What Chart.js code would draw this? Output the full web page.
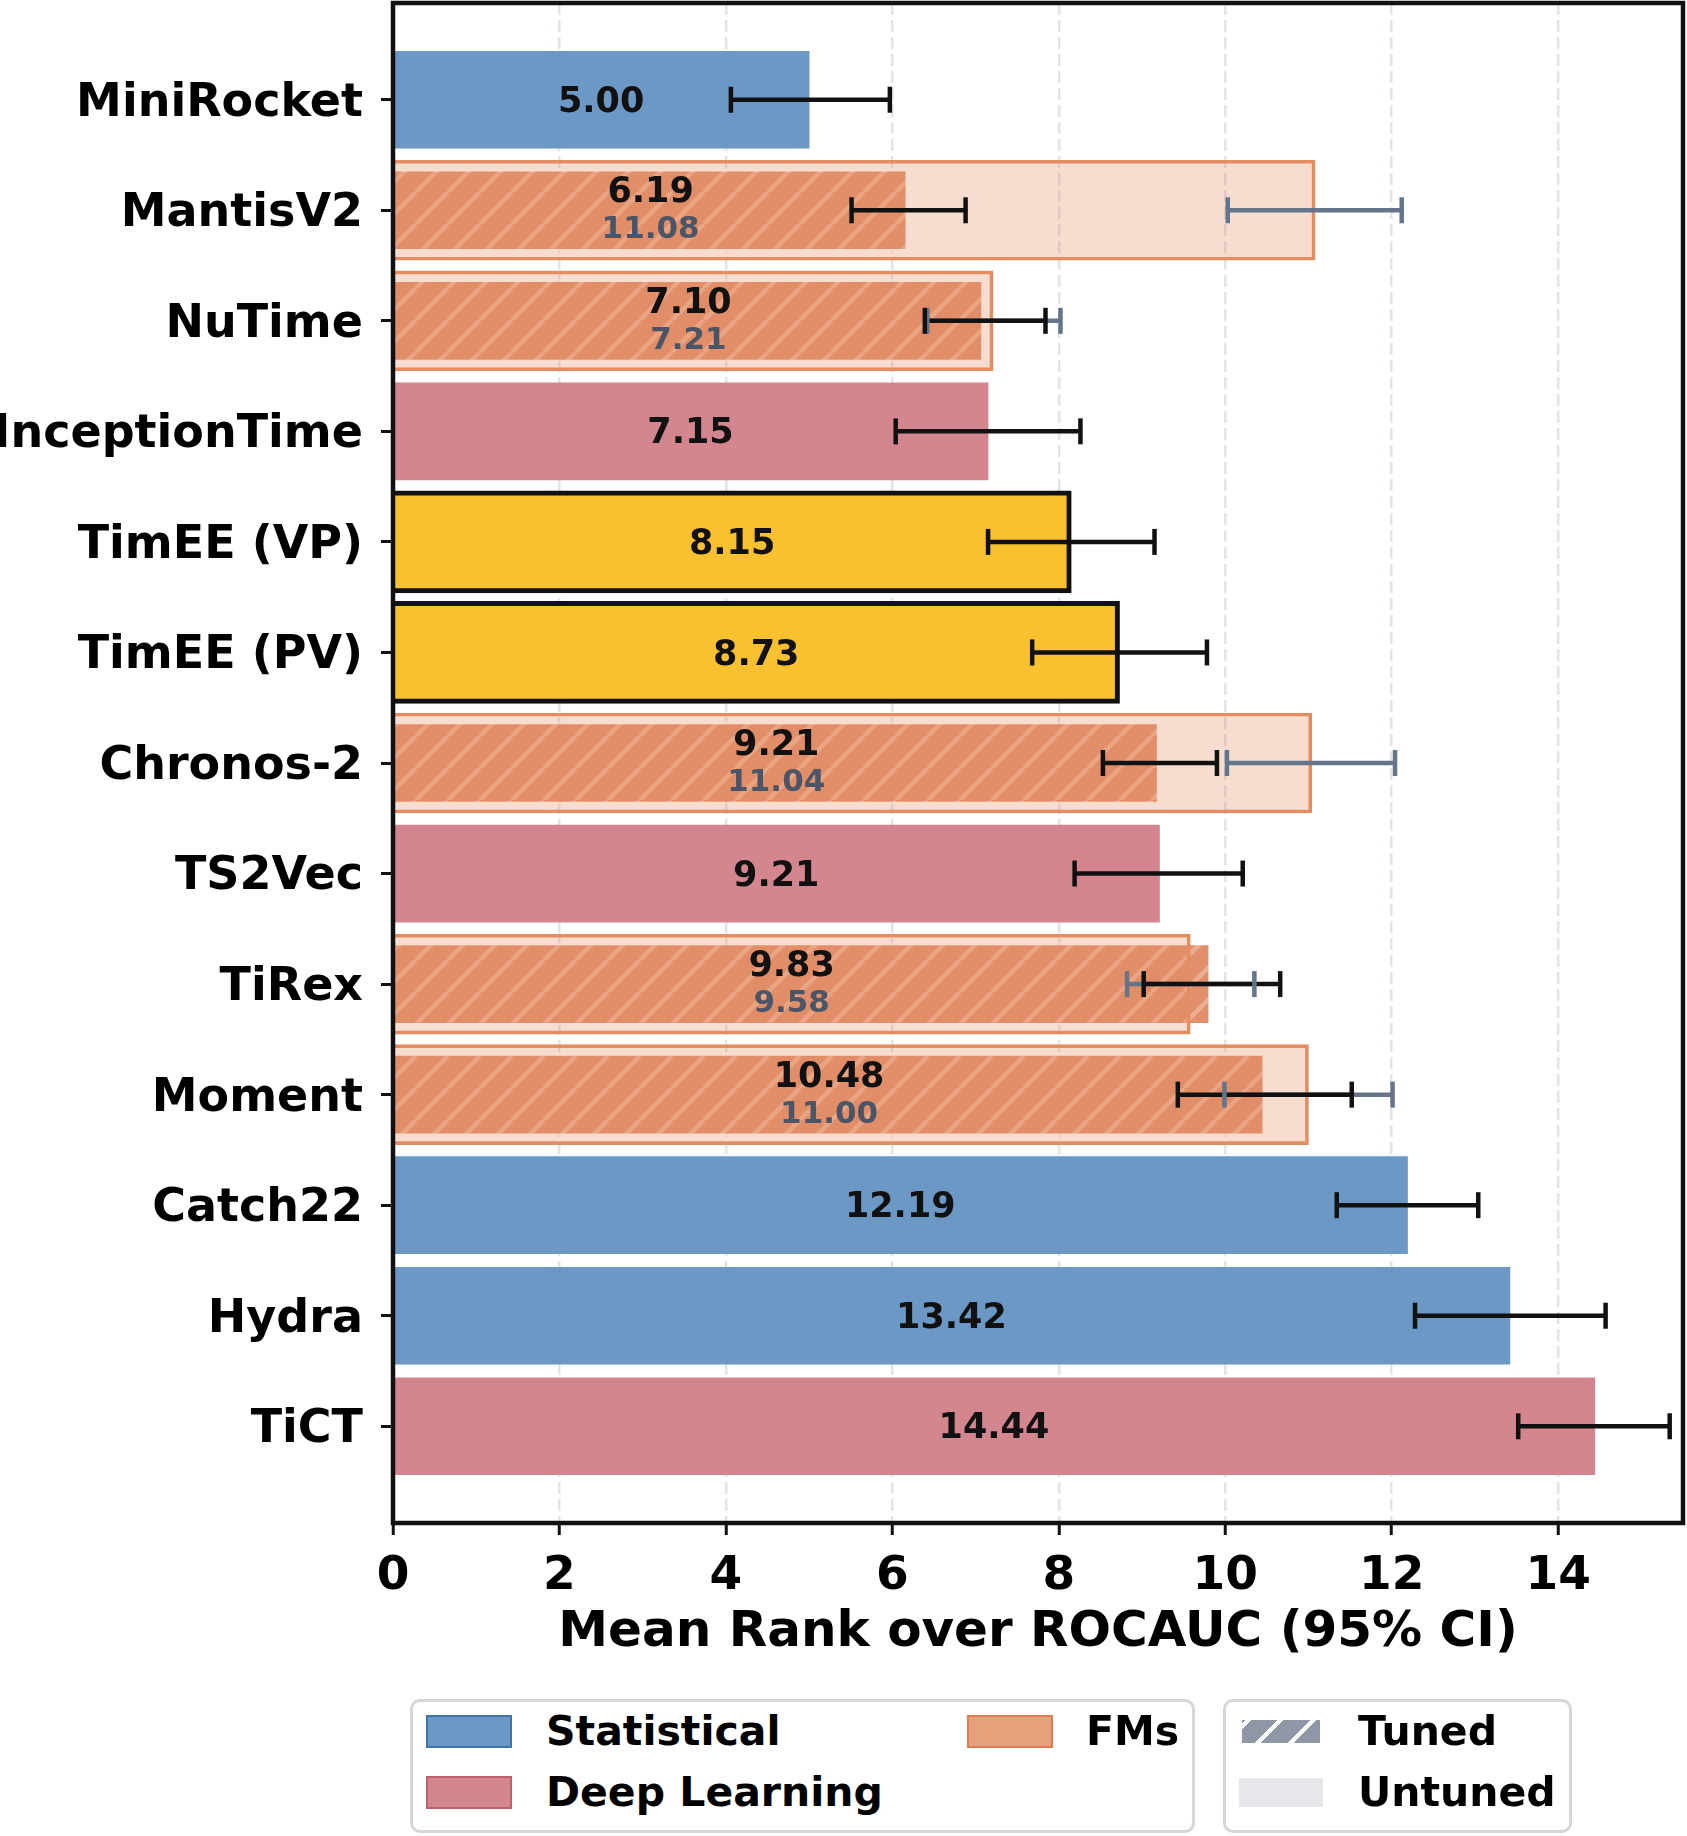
<!DOCTYPE html>
<html>
<head>
<meta charset="utf-8">
<script src="https://cdn.jsdelivr.net/npm/chart.js@4.4.1/dist/chart.umd.min.js"></script>
<style>
  html, body { margin: 0; padding: 0; background: #fff; }
  #wrap { position: relative; width: 1687px; height: 1836px; overflow: hidden; }
  #chart { position: absolute; left: 0; top: 0; }
  .lbox { position: absolute; border: 3px solid #d6d6d6; border-radius: 10px; box-sizing: border-box; background: #fff; }
  .ltxt { position: absolute; font: bold 41px "DejaVu Sans"; color: #000; white-space: nowrap; line-height: 41px; }
  .patch { position: absolute; box-sizing: border-box; }
</style>
</head>
<body>
<div id="wrap">
  <canvas id="chart" width="1687" height="1836"></canvas>
</div>
<script>
// ---------------- data ----------------
const categories = ['MiniRocket', 'MantisV2', 'NuTime', 'InceptionTime', 'TimEE (VP)', 'TimEE (PV)',
  'Chronos-2', 'TS2Vec', 'TiRex', 'Moment', 'Catch22', 'Hydra', 'TiCT'];
const groups = ['Statistical', 'FMs', 'FMs', 'Deep Learning', 'TimEE', 'TimEE',
  'FMs', 'Deep Learning', 'FMs', 'FMs', 'Statistical', 'Statistical', 'Deep Learning'];
const tunedMean = [5.00, 6.19, 7.10, 7.15, 8.15, 8.73, 9.21, 9.21, 9.83, 10.48, 12.19, 13.42, 14.44];
const tunedLow  = [4.06, 5.51, 6.39, 6.04, 7.15, 7.68, 8.53, 8.19, 9.02, 9.43, 11.34, 12.28, 13.52];
const tunedHigh = [5.97, 6.88, 7.84, 8.26, 9.15, 9.78, 9.90, 10.21, 10.66, 11.52, 13.04, 14.57, 15.34];
const untunedMean = [null, 11.08, 7.21, null, null, null, 11.04, null, 9.58, 11.00, null, null, null];
const untunedLow  = [null, 10.03, 6.42, null, null, null, 10.02, null, 8.82, 9.99, null, null, null];
const untunedHigh = [null, 12.12, 8.02, null, null, null, 12.04, null, 10.35, 12.01, null, null, null];
const xTicks = [0, 2, 4, 6, 8, 10, 12, 14];
const xTitle = 'Mean Rank over ROCAUC (95% CI)';
const legendFamilies = ['Statistical', 'Deep Learning', 'FMs'];
const legendTuning = ['Tuned', 'Untuned'];

// ---------------- styles ----------------
const FONT = '"DejaVu Sans"';
const groupColor = {
  'Statistical': '#6b98c5',
  'Deep Learning': '#d4868f',
  'TimEE': '#f9c02f'
};
const errTuned = '#111111';
const errUntuned = '#64748b';

function makeHatch() {
  const c = document.createElement('canvas');
  c.width = 32; c.height = 32;
  const g = c.getContext('2d');
  g.fillStyle = '#e08f6a';
  g.fillRect(0, 0, 32, 32);
  g.strokeStyle = '#ebae91';
  g.lineWidth = 4.5;
  g.beginPath();
  for (const o of [-32, 0, 32]) { g.moveTo(o, 32); g.lineTo(o + 32, 0); }
  g.stroke();
  return g.createPattern(c, 'repeat');
}
const hatch = makeHatch();

// ---------------- datasets ----------------
const idx = categories.map((_, i) => i);
const regularIdx = idx.filter(i => groups[i] === 'Statistical' || groups[i] === 'Deep Learning');
const timeeIdx = idx.filter(i => groups[i] === 'TimEE');
const fmIdx = idx.filter(i => groups[i] === 'FMs');
const untunedIdx = idx.filter(i => untunedMean[i] !== null);

const datasets = [
  {
    label: 'Untuned',
    data: untunedIdx.map(i => ({ x: untunedMean[i], y: i })),
    backgroundColor: 'rgba(228,141,100,0.30)',
    borderColor: '#e58c60',
    borderWidth: 3,
    barThickness: 100,
    grouped: false,
    order: 0
  },
  {
    label: 'Tuned FMs',
    data: fmIdx.map(i => ({ x: tunedMean[i], y: i })),
    backgroundColor: hatch,
    borderColor: 'rgba(255,255,255,0.5)',
    borderWidth: 3,
    barThickness: 83,
    grouped: false,
    order: 1
  },
  {
    label: 'TimEE',
    data: timeeIdx.map(i => ({ x: tunedMean[i], y: i })),
    backgroundColor: groupColor['TimEE'],
    borderColor: '#111111',
    borderWidth: 5,
    barThickness: 102,
    grouped: false,
    order: 2
  },
  {
    label: 'Baselines',
    data: regularIdx.map(i => ({ x: tunedMean[i], y: i })),
    backgroundColor: regularIdx.map(i => groupColor[groups[i]]),
    borderWidth: 0,
    barThickness: 97,
    grouped: false,
    order: 3
  }
];

// ---------------- plugins ----------------
const errorBars = {
  id: 'errorBars',
  afterDatasetsDraw(chart) {
    const { ctx, scales: { x, y } } = chart;
    const cap = 13;
    ctx.save();
    ctx.lineWidth = 4.5;
    ctx.lineCap = 'butt';
    const drawLines = (lo, hi, color) => {
      ctx.strokeStyle = color;
      idx.forEach(i => {
        if (lo[i] === null) return;
        const py = y.getPixelForValue(i);
        ctx.beginPath();
        ctx.moveTo(x.getPixelForValue(lo[i]), py);
        ctx.lineTo(x.getPixelForValue(hi[i]), py);
        ctx.stroke();
      });
    };
    const drawCaps = (lo, hi, color) => {
      ctx.strokeStyle = color;
      idx.forEach(i => {
        if (lo[i] === null) return;
        const py = y.getPixelForValue(i);
        [lo[i], hi[i]].forEach(v => {
          const px = x.getPixelForValue(v);
          ctx.beginPath();
          ctx.moveTo(px, py - cap);
          ctx.lineTo(px, py + cap);
          ctx.stroke();
        });
      });
    };
    drawLines(untunedLow, untunedHigh, errUntuned);
    drawLines(tunedLow, tunedHigh, errTuned);
    drawCaps(untunedLow, untunedHigh, errUntuned);
    drawCaps(tunedLow, tunedHigh, errTuned);
    ctx.restore();
  }
};

const valueLabels = {
  id: 'valueLabels',
  afterDatasetsDraw(chart) {
    const { ctx, scales: { x, y } } = chart;
    ctx.save();
    ctx.textAlign = 'center';
    ctx.textBaseline = 'middle';
    idx.forEach(i => {
      const py = y.getPixelForValue(i) + 3;
      const hasU = untunedMean[i] !== null;
      const m = hasU ? Math.min(tunedMean[i], untunedMean[i]) : tunedMean[i];
      const px = x.getPixelForValue(m / 2);
      ctx.fillStyle = '#111111';
      ctx.font = 'bold 35px ' + FONT;
      ctx.fillText(tunedMean[i].toFixed(2), px, hasU ? py - 20 : py);
      if (hasU) {
        ctx.fillStyle = '#4a5568';
        ctx.font = 'bold 31px ' + FONT;
        ctx.fillText(untunedMean[i].toFixed(2), px, py + 17);
      }
    });
    ctx.restore();
  }
};

const frame = {
  id: 'frame',
  afterDraw(chart) {
    const { ctx, chartArea: a } = chart;
    ctx.save();
    ctx.strokeStyle = '#111111';
    ctx.lineWidth = 4.5;
    ctx.strokeRect(a.left, a.top, a.right - a.left, a.bottom - a.top);
    ctx.restore();
  }
};

// ---------------- chart ----------------
new Chart(document.getElementById('chart'), {
  type: 'bar',
  data: { datasets },
  options: {
    indexAxis: 'y',
    responsive: false,
    animation: false,
    devicePixelRatio: 1,
    layout: { padding: { top: 3, right: 4, left: 0, bottom: 0 } },
    plugins: { legend: { display: false }, tooltip: { enabled: false } },
    scales: {
      y: {
        type: 'linear',
        position: 'left',
        reverse: true,
        offset: false,
        min: -0.875,
        max: 12.875,
        afterBuildTicks: s => { s.ticks = idx.map(i => ({ value: i })); },
        afterFit: s => { s.width = 393; s.paddingTop = 0; s.paddingBottom = 0; },
        ticks: {
          autoSkip: false,
          padding: 18,
          labelOffset: 4,
          color: '#000',
          font: { family: 'DejaVu Sans', weight: 'bold', size: 46 },
          callback: v => categories[v]
        },
        grid: { offset: false, drawOnChartArea: false, drawTicks: true, tickLength: 12, tickWidth: 3, tickColor: '#111', color: '#111' },
        border: { display: false }
      },
      x: {
        type: 'linear',
        position: 'bottom',
        min: 0,
        max: 15.5,
        offset: false,
        afterBuildTicks: s => { s.ticks = xTicks.map(v => ({ value: v })); },
        afterFit: s => { s.height = 313; s.paddingLeft = 0; s.paddingRight = 0; },
        ticks: {
          autoSkip: false,
          maxRotation: 0,
          padding: 14,
          color: '#000',
          font: { family: 'DejaVu Sans', weight: 'bold', size: 47 },
          callback: v => String(v)
        },
        grid: {
          offset: false,
          drawOnChartArea: true, drawTicks: true, tickLength: 12, tickWidth: 3,
          tickColor: '#111', color: '#e3e3ea', lineWidth: 2.5, tickBorderDash: []
        },
        border: { display: false, dash: [12, 5] },
        title: {
          display: true,
          text: xTitle,
          color: '#000',
          font: { family: 'DejaVu Sans', weight: 'bold', size: 50 },
          padding: { top: 0, bottom: 173 }
        }
      }
    }
  },
  plugins: [errorBars, valueLabels, frame]
});

// ---------------- legend (HTML) ----------------
const wrap = document.getElementById('wrap');
function add(cls, style, text) {
  const d = document.createElement('div');
  d.className = cls;
  Object.assign(d.style, style);
  if (text) d.textContent = text;
  wrap.appendChild(d);
  return d;
}
add('lbox', { left: '410px', top: '1699px', width: '785px', height: '134px' });
add('lbox', { left: '1223px', top: '1699px', width: '349px', height: '134px' });
const famStyle = {
  'Statistical': { background: '#6b98c5', border: '2px solid #3f74ad' },
  'Deep Learning': { background: '#d4868f', border: '2px solid #c05f6d' },
  'FMs': { background: '#e6a07c', border: '2px solid #dd7d50' }
};
const famPos = [[426, 1715, 546], [426, 1776, 546], [967, 1715, 1086]];
legendFamilies.forEach((f, k) => {
  const [px, py, tx] = famPos[k];
  add('patch', Object.assign({ left: px + 'px', top: py + 'px', width: '86px', height: '33px' }, famStyle[f]));
  add('ltxt', { left: tx + 'px', top: (py - 4) + 'px' }, f);
});
add('patch', { left: '1242px', top: '1720px', width: '78px', height: '23px',
  background: 'repeating-linear-gradient(-45deg, #8f96a6 0px, #8f96a6 19px, #ffffff 19px, #ffffff 23px)' });
add('ltxt', { left: '1358px', top: '1711px' }, legendTuning[0]);
add('patch', { left: '1239px', top: '1778px', width: '84px', height: '29px', background: '#e5e7eb' });
add('ltxt', { left: '1358px', top: '1772px' }, legendTuning[1]);
</script>
</body>
</html>
